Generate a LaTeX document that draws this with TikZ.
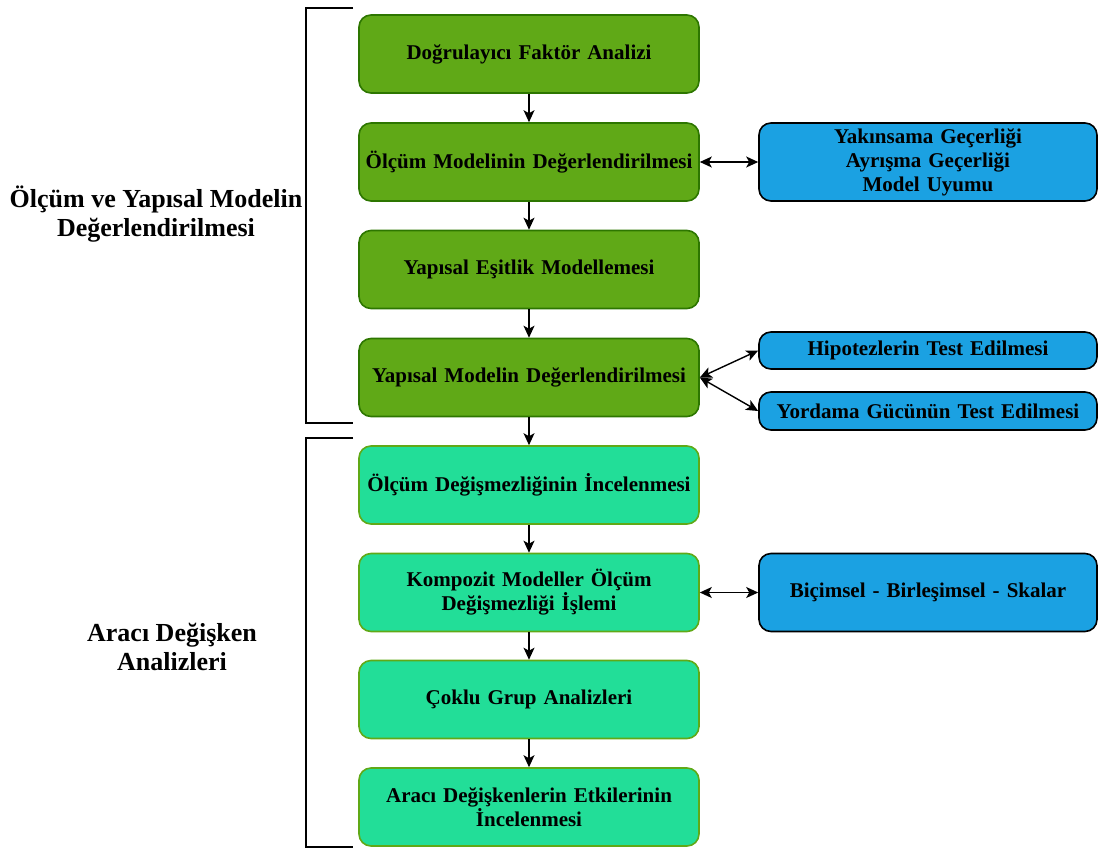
\documentclass[tikz,border=0pt]{standalone}
\usepackage{fontspec}
\setmainfont{Liberation Serif}
\usetikzlibrary{arrows.meta}
\definecolor{gdark}{HTML}{60A917}
\definecolor{gdarkline}{HTML}{2D7600}
\definecolor{glight}{HTML}{22DE98}
\definecolor{bfill}{HTML}{1BA1E2}
\begin{document}
\begin{tikzpicture}[x=1pt,y=-1pt,
  every node/.style={inner sep=0pt},
  boxbase/.style={rounded corners=12pt, line width=1.6pt, align=center,
    font=\fontsize{21}{24}\selectfont\bfseries, minimum height=78pt},
  stagebox/.style={boxbase, fill=gdark, draw=gdarkline, minimum width=340pt, text width=336pt},
  mediatorbox/.style={boxbase, fill=glight, draw=gdark, minimum width=340pt, text width=336pt},
  infobox/.style={boxbase, fill=bfill, draw=black, minimum width=338pt, text width=334pt},
  sidelabel/.style={align=center, font=\fontsize{26}{29}\selectfont\bfseries},
  flow/.style={line width=1.4pt, -{Stealth[length=12pt,width=11pt,inset=3pt]}},
  link/.style={line width=1.4pt, {Stealth[length=12pt,width=11pt,inset=3pt]}-{Stealth[length=12pt,width=11pt,inset=3pt]}},
  brace/.style={line width=1.3pt}
]
\useasboundingbox (0,0) rectangle (1100,849);

% main flow
\node[stagebox] (g1) at (529,54) {Doğrulayıcı Faktör Analizi};
\node[stagebox] (g2) at (529,162) {Ölçüm Modelinin Değerlendirilmesi};
\node[stagebox] (g3) at (529,269.5) {Yapısal Eşitlik Modellemesi};
\node[stagebox] (g4) at (529,377.5) {Yapısal Modelin Değerlendirilmesi};
\node[mediatorbox] (g5) at (529,485) {Ölçüm Değişmezliğinin İncelenmesi};
\node[mediatorbox] (g6) at (529,592.5) {Kompozit Modeller Ölçüm\\Değişmezliği İşlemi};
\node[mediatorbox] (g7) at (529,699.5) {Çoklu Grup Analizleri};
\node[mediatorbox] (g8) at (529,807) {Aracı Değişkenlerin Etkilerinin\\İncelenmesi};

% side details
\node[infobox] (bA) at (928,162) {Yakınsama Geçerliği\\Ayrışma Geçerliği\\Model Uyumu};
\node[infobox, minimum height=37pt] (bB) at (928,350.5) {Hipotezlerin Test Edilmesi};
\node[infobox, minimum height=38pt] (bC) at (928,411) {Yordama Gücünün Test Edilmesi};
\node[infobox] (bD) at (928,592.5) {Biçimsel - Birleşimsel - Skalar};

% group labels
\node[sidelabel] (l1) at (156,214) {Ölçüm ve Yapısal Modelin\\Değerlendirilmesi};
\node[sidelabel] (l2) at (172,647) {Aracı Değişken\\Analizleri};

% group brackets
\coordinate (t1) at (353,8);
\coordinate (t2) at (353,423);
\coordinate (t3) at (353,438);
\coordinate (t4) at (353,847);
\draw[brace] (t1) -- (306,8) -- (306,423) -- (t2);
\draw[brace] (t3) -- (306,438) -- (306,847) -- (t4);

% connectors
\foreach \a/\b in {g1/g2,g2/g3,g3/g4,g4/g5,g5/g6,g6/g7,g7/g8}
  \draw[flow] (\a) -- (\b);
\draw[link] (g2.east) -- (bA.west);
\draw[link] (g4.east) -- (bB.west);
\draw[link] (g4.east) -- (bC.west);
\draw[link] (g6.east) -- (bD.west);
\end{tikzpicture}
\end{document}
